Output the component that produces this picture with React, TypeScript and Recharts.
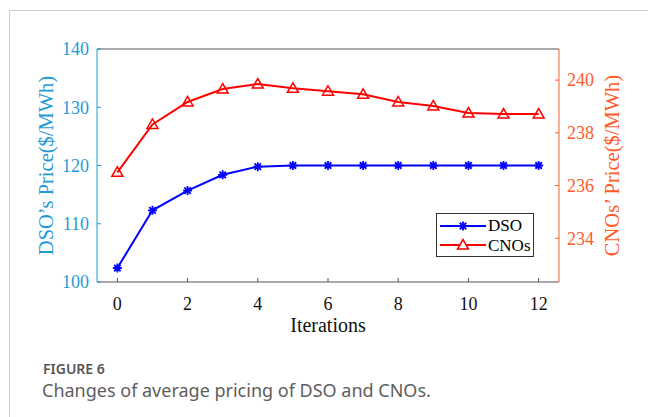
import React from 'react';
import { LineChart, Line, XAxis, YAxis, Legend } from 'recharts';

const iterations = [0, 1, 2, 3, 4, 5, 6, 7, 8, 9, 10, 11, 12];
const dsoPrice = [102.4, 112.3, 115.7, 118.4, 119.8, 120, 120, 120, 120, 120, 120, 120, 120];
const cnoPrice = [236.5, 238.32, 239.17, 239.66, 239.85, 239.69, 239.58, 239.46, 239.17, 239.02, 238.75, 238.71, 238.71];
const xTicks = [0, 2, 4, 6, 8, 10, 12];
const leftTicks = [100, 110, 120, 130, 140];
const rightTicks = [234, 236, 238, 240];
const legendOrder = ['dso', 'cno'];

const data = iterations.map((it, i) => ({ it, dso: dsoPrice[i], cno: cnoPrice[i] }));

const SERIF = '"Liberation Serif", "Times New Roman", serif';
const SANS = '"Noto Sans", "Open Sans", sans-serif';
const LEFT_COLOR = '#1f9ad6';
const RIGHT_COLOR = '#ff5a2a';
const DSO_COLOR = '#0000ff';
const CNO_COLOR = '#ff0000';

const starPath = (cx: number, cy: number, r: number) => {
  const d = r * 0.72;
  return `M${cx - r},${cy}L${cx + r},${cy}M${cx},${cy - r}L${cx},${cy + r}M${cx - d},${cy - d}L${cx + d},${cy + d}M${cx - d},${cy + d}L${cx + d},${cy - d}`;
};

const triPoints = (cx: number, cy: number) =>
  `${cx},${cy - 5.5} ${cx - 5.5},${cy + 4} ${cx + 5.5},${cy + 4}`;

const StarDot = (props: any) => {
  const { cx, cy, index } = props;
  if (cx == null || cy == null) return <g key={`s${index}`} />;
  return (
    <path key={`s${index}`} d={starPath(cx, cy, 4.5)} stroke={DSO_COLOR} strokeWidth={1.8} fill="none" />
  );
};

const TriDot = (props: any) => {
  const { cx, cy, index } = props;
  if (cx == null || cy == null) return <g key={`t${index}`} />;
  return (
    <polygon key={`t${index}`} points={triPoints(cx, cy)} stroke={CNO_COLOR} strokeWidth={1.5} fill="none" />
  );
};

const LegendContent = (props: any) => {
  const items = [...(props.payload || [])].sort(
    (a: any, b: any) => legendOrder.indexOf(a.dataKey) - legendOrder.indexOf(b.dataKey)
  );
  return (
    <div
      style={{
        width: 98,
        height: 44,
        boxSizing: 'border-box',
        border: '1px solid #333',
        background: '#fff',
        paddingTop: 2,
      }}
    >
      {items.map((p: any, i: number) => (
        <div key={i} style={{ display: 'flex', alignItems: 'center', height: 19.5 }}>
          <svg width={51} height={16} style={{ display: 'block' }}>
            <line x1={3} y1={8} x2={49} y2={8} stroke={p.color} strokeWidth={2} />
            {p.dataKey === 'dso' ? (
              <path d={starPath(26, 8, 4.5)} stroke={p.color} strokeWidth={1.8} fill="none" />
            ) : (
              <polygon points={triPoints(26, 8)} stroke={p.color} strokeWidth={1.5} fill="#fff" />
            )}
          </svg>
          <span style={{ fontFamily: SERIF, fontSize: 17, color: '#000', lineHeight: '17px' }}>{p.value}</span>
        </div>
      ))}
    </div>
  );
};

export default function App() {
  return (
    <div style={{ position: 'absolute', left: 0, top: 0, width: 648, height: 417, background: '#fff' }}>
      <div style={{ position: 'absolute', left: 9, top: 10, width: 1, height: 407, background: '#cfcfcf' }} />
      <div style={{ position: 'absolute', left: 9, top: 10, width: 639, height: 1, background: '#cfcfcf' }} />
      <div style={{ position: 'absolute', left: 0, top: 0 }}>
        <LineChart width={648} height={417} data={data} margin={{ top: 48, right: 0, bottom: 75, left: 0 }}>
          <XAxis
            xAxisId="top"
            orientation="top"
            dataKey="it"
            type="number"
            domain={[-0.58, 12.58]}
            ticks={xTicks}
            height={1}
            tick={false}
            tickSize={-4}
            stroke="#555"
            allowDataOverflow
          />
          <XAxis
            dataKey="it"
            type="number"
            domain={[-0.58, 12.58]}
            ticks={xTicks}
            height={60}
            tickSize={-4}
            tickMargin={19}
            stroke="#555"
            tick={{ fill: '#111', fontSize: 18, fontFamily: SERIF }}
            label={{ value: 'Iterations', position: 'insideBottom', offset: 10, fill: '#111', fontSize: 20, fontFamily: SERIF }}
            allowDataOverflow
          />
          <YAxis
            yAxisId="left"
            orientation="left"
            domain={[100, 140]}
            ticks={leftTicks}
            width={97}
            tickSize={-4}
            tickMargin={12}
            stroke={LEFT_COLOR}
            tick={{ fill: LEFT_COLOR, fontSize: 18, fontFamily: SERIF }}
            label={{
              value: 'DSO’s Price($/MWh)',
              angle: -90,
              position: 'insideLeft',
              offset: 46,
              fill: LEFT_COLOR,
              fontSize: 20.5,
              fontFamily: SERIF,
              style: { textAnchor: 'middle' },
            }}
            allowDataOverflow
          />
          <YAxis
            yAxisId="right"
            orientation="right"
            domain={[232.34, 241.18]}
            ticks={rightTicks}
            width={89}
            tickSize={-4}
            tickMargin={12}
            stroke={RIGHT_COLOR}
            tick={{ fill: RIGHT_COLOR, fontSize: 18, fontFamily: SERIF }}
            label={{
              value: 'CNOs’ Price($/MWh)',
              angle: -90,
              position: 'insideRight',
              offset: 36,
              fill: RIGHT_COLOR,
              fontSize: 20.5,
              fontFamily: SERIF,
              style: { textAnchor: 'middle' },
            }}
            allowDataOverflow
          />
          <Legend
            layout="horizontal"
            verticalAlign="middle"
            align="center"
            content={<LegendContent />}
            wrapperStyle={{ left: 436, top: 213, width: 98, height: 44 }}
          />
          <Line
            yAxisId="left"
            dataKey="dso"
            name="DSO"
            stroke={DSO_COLOR}
            strokeWidth={2}
            dot={StarDot}
            activeDot={false}
            isAnimationActive={false}
          />
          <Line
            yAxisId="right"
            dataKey="cno"
            name="CNOs"
            stroke={CNO_COLOR}
            strokeWidth={2}
            dot={TriDot}
            activeDot={false}
            isAnimationActive={false}
          />
        </LineChart>
      </div>
      <div
        style={{
          position: 'absolute',
          left: 43,
          top: 361.6,
          fontFamily: SANS,
          fontSize: 14,
          lineHeight: '14px',
          fontWeight: 600,
          color: '#555',
          whiteSpace: 'nowrap',
        }}
      >
        FIGURE 6
      </div>
      <div
        style={{
          position: 'absolute',
          left: 42,
          top: 380.7,
          fontFamily: SANS,
          fontSize: 18,
          lineHeight: '18px',
          color: '#5e5e5e',
          whiteSpace: 'nowrap',
        }}
      >
        Changes of average pricing of DSO and CNOs.
      </div>
    </div>
  );
}
